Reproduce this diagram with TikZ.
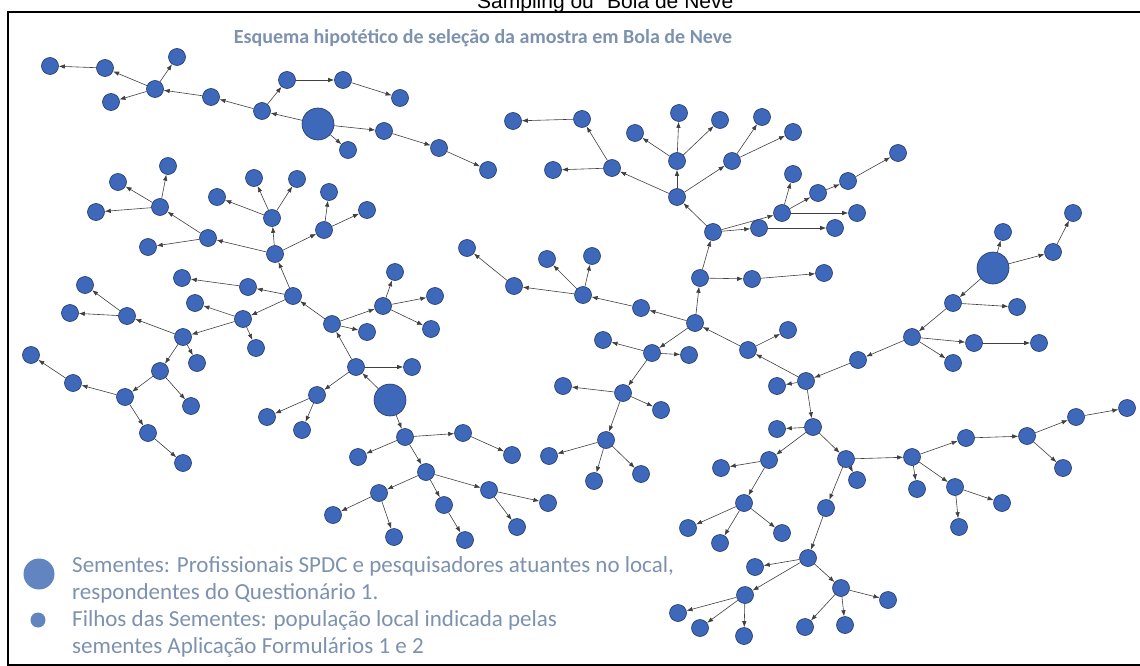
\documentclass[tikz,border=0pt]{standalone}
\usepackage{fontspec}
\setmainfont{Carlito}
\newfontfamily\headfont{Liberation Sans}
\usetikzlibrary{arrows.meta}
\definecolor{nodeblue}{RGB}{62,104,186}
\definecolor{nodeline}{RGB}{35,55,105}
\definecolor{keyblue}{RGB}{98,132,192}
\definecolor{captiongray}{RGB}{125,146,175}
\tikzset{
  kid/.style={circle,fill=nodeblue,draw=nodeline,line width=0.6pt,inner sep=0pt,minimum size=17pt},
  seed/.style={kid,minimum size=32pt},
  link/.style={draw=black!75,line width=0.6pt,-{Latex[length=6pt,width=4.5pt]}},
  keytext/.style={anchor=base west,text=captiongray,font=\fontsize{23}{27}\selectfont,inner sep=0pt}
}

\begin{document}
\begin{tikzpicture}[x=1pt,y=-1pt]
    \useasboundingbox (0,0) rectangle (1140,666);
    \fill[white] (0,0) rectangle (1140,666);
    \draw[line width=2pt] (8,12) rectangle (1145,665);
    \node[font=\headfont\fontsize{21}{24}\selectfont,anchor=base,inner sep=0pt] (top) at (609,9) {Sampling ou "Bola de Neve"};
    \node[font=\bfseries\fontsize{20}{24}\selectfont,text=captiongray] (head) at (483,38) {Esquema hipotético de seleção da amostra em Bola de Neve};

    % seeds
    \node[seed] (s1) at (318,124) {};
    \node[seed] (s2) at (390,400) {};
    \node[seed] (s3) at (993,268) {};

    % children
    \foreach \n/\x/\y in {a1/50/66, a2/105/68, a3/177/57, a4/155/89, a5/111/102, a6/211/97, a7/262/111,
        a8/287/80, a9/343/80, a10/400/98, a11/384/131, a12/348/150, a13/439/148, a14/488/170}
      \node[kid] (\n) at (\x,\y) {};
    \foreach \n/\x/\y in {b1/168/166, b2/118/182, b3/160/207, b4/96/212, b5/208/238, b6/148/247, b7/254/178,
        b8/297/179, b9/217/197, b10/272/218, b11/329/192, b12/367/210, b13/324/230, b14/275/254,
        b15/293/296, b16/182/278, b17/248/287, b18/195/303, b19/243/319, b20/256/348, b21/85/285,
        b22/70/313, b23/127/316, b24/183/337, b25/197/363, b26/31/355, b27/160/371, b28/73/383,
        b29/125/397, b30/191/406, b31/148/433, b32/183/463, b33/332/324, b34/383/306, b35/395/272,
        b36/435/296, b37/431/329, b38/367/332, b39/356/367, b40/412/367, b41/317/395, b42/267/417,
        b43/302/430, b44/405/437, b45/463/433, b46/358/457, b47/426/472, b48/512/455, b49/489/490,
        b51/548/503, b52/517/527, b53/465/540, b54/379/493, b55/333/515, b56/394/537, b57/444/505}
      \node[kid] (\n) at (\x,\y) {};
    \foreach \n/\x/\y in {c1/513/121, c2/582/119, c4/553/170, c5/612/168, c6/635/133, c7/679/113,
        c8/720/120, c9/762/117, c10/793/132, c11/677/161, c12/732/161, c13/677/197, c14/898/153,
        c15/793/174, c16/848/181, c17/818/193, c18/782/213, c19/857/213, c20/713/232, c21/759/228,
        c22/835/228, c23/700/278, c24/752/279, c25/824/273, c26/467/248, c27/514/286, c28/547/259,
        c29/592/256, c30/583/295, c31/641/308, c32/695/323, c33/603/340, c34/652/353, c35/689/355,
        c36/748/350, c37/788/330, c38/563/386, c39/623/393, c40/777/386, c41/806/381, c42/858/360,
        c43/912/337}
      \node[kid] (\n) at (\x,\y) {};
    \foreach \n/\x/\y in {d1/1003/232, d2/1053/252, d3/1073/213, d4/953/303, d5/1017/307, d7/974/343,
        d8/1039/343, d9/953/363,
        e1/661/410, e2/606/440, e3/549/456, e4/594/481, e5/641/474, e6/813/427, e7/777/429,
        e8/769/460, e9/721/468, e10/846/459, e11/857/480, e12/744/503, e13/826/508,
        f1/912/457, f2/966/438, f3/1027/436, f4/1076/417, f5/1127/408, f6/1063/468, f7/917/489,
        f8/955/487, f9/1002/503, f10/959/527,
        g1/688/528, g2/720/543, g3/782/533, g4/808/558, g5/755/567, g6/841/588, g7/888/600,
        g8/745/595, g9/678/613, g10/700/628, g11/744/636, g12/805/627, g13/845/625}
      \node[kid] (\n) at (\x,\y) {};

    % referrals
    \foreach \p/\q in {s1/a7, a7/a6, a6/a4, a4/a2, a2/a1, a4/a3, a4/a5, a7/a8, a8/a9, a9/a10,
        s1/a11, a11/a13, a13/a14, s1/a12}
      \draw[link] (\p) -- (\q);
    \foreach \p/\q in {s2/b39, b39/b33, b33/b15, b39/b40, b39/b41, b41/b42, b41/b43, s2/b44,
        b44/b45, b45/b48, b44/b46, b44/b47, b47/b49, b49/b51, b49/b52, b47/b54, b54/b55, b54/b56,
        b47/b57, b57/b53, b33/b34, b33/b38, b34/b35, b34/b36, b34/b37, b15/b14, b14/b10, b10/b7,
        b10/b8, b10/b9, b14/b13, b13/b11, b13/b12, b14/b5, b5/b3, b5/b6, b3/b1, b3/b2, b3/b4,
        b15/b17, b17/b16, b15/b19, b19/b18, b19/b20, b19/b24, b24/b23, b23/b21, b23/b22,
        b24/b25, b24/b27, b27/b29, b27/b30, b29/b28, b28/b26, b29/b31, b31/b32}
      \draw[link] (\p) -- (\q);
    \foreach \p/\q in {s3/d1, s3/d2, d2/d3, s3/d4, d4/d5, d4/c43, c43/d7, d7/d8, c43/d9, c43/c42,
        c42/c41, c41/c40, c41/c36, c36/c37, c36/c32, c32/c31, c31/c30, c30/c27, c27/c26, c30/c28,
        c30/c29, c32/c23, c23/c24, c24/c25, c23/c20, c20/c13, c13/c11, c11/c6, c11/c7, c11/c8,
        c13/c12, c12/c9, c12/c10, c13/c5, c5/c4, c5/c2, c2/c1, c20/c21, c21/c22, c20/c18,
        c18/c15, c18/c17, c17/c16, c16/c14, c18/c19, c32/c34, c34/c33, c34/c35, c34/c39,
        c39/c38, c39/e1, c39/e2, e2/e3, e2/e4, e2/e5, c41/e6, e6/e7, e6/e8, e8/e9, e8/e12,
        e12/g1, e12/g2, e12/g3, e6/e10, e10/e11, e10/e13, e13/g4, g4/g5, g4/g8, g4/g6, g6/g7,
        g6/g12, g6/g13, g8/g9, g8/g10, g8/g11, e10/f1, f1/f2, f2/f3, f3/f4, f4/f5, f3/f6,
        f1/f7, f1/f8, f8/f9, f8/f10}
      \draw[link] (\p) -- (\q);

    % legend
    \node[circle,fill=keyblue,inner sep=0pt,minimum size=31pt] (keyseed) at (39,574) {};
    \node[circle,fill=keyblue,inner sep=0pt,minimum size=15pt] (keykid) at (38,620) {};
    \node[keytext] (keyline1) at (72,572) {Sementes: Profissionais SPDC e pesquisadores atuantes no local,};
    \node[keytext] (keyline2) at (72,599) {respondentes do Questionário 1.};
    \node[keytext] (keyline3) at (72,626) {Filhos das Sementes: população local indicada pelas};
    \node[keytext] (keyline4) at (72,653) {sementes Aplicação Formulários 1 e 2};
\end{tikzpicture}
\end{document}
